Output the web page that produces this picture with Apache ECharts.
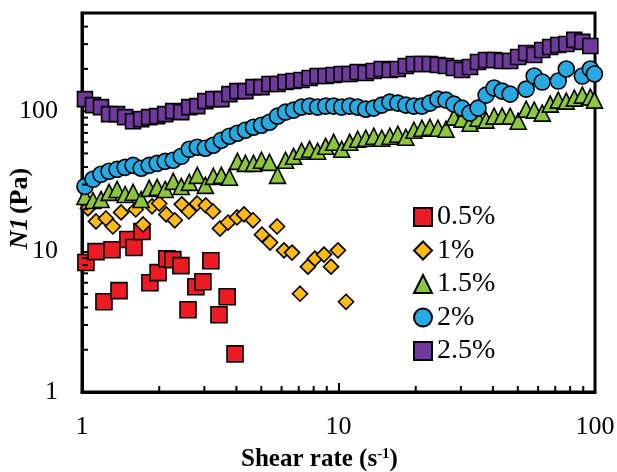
<!DOCTYPE html>
<html>
<head>
<meta charset="utf-8">
<script src="https://cdn.jsdelivr.net/npm/echarts@6/dist/echarts.min.js"></script>
<style>
html, body { margin: 0; padding: 0; background: #fff; }
#chart { width: 617px; height: 472px; }
</style>
</head>
<body>
<div id="chart"></div>
<script>
// shear rate grid shared by 1.5%, 2%, 2.5%
const shearRate = [1.027, 1.104, 1.186, 1.275, 1.370, 1.473, 1.582, 1.701, 1.828, 1.964,
    2.110, 2.268, 2.438, 2.619, 2.815, 3.026, 3.251, 3.494, 3.755, 4.036,
    4.336, 4.661, 5.009, 5.382, 5.784, 6.217, 6.681, 7.178, 7.716, 8.291,
    8.910, 9.575, 10.29, 11.06, 11.88, 12.77, 13.72, 14.75, 15.85, 17.03,
    18.30, 19.67, 21.14, 22.72, 24.41, 26.24, 28.19, 30.30, 32.56, 34.99,
    37.61, 40.41, 43.43, 46.68, 50.16, 53.90, 57.93, 62.26, 66.90, 71.90,
    77.27, 83.04, 89.24, 95.90, 99.5];

const n1_25 = [121.8, 110.4, 106.8, 95.2, 95.2, 90.6, 84.8, 87.7, 90.6, 92.1,
    95.2, 100, 98.4, 106.8, 108.6, 117.9, 121.8, 121.8, 132.2, 138.9,
    138.9, 148.4, 148.4, 155.9, 155.9, 161.1, 163.8, 166.5, 172.1, 177.8,
    177.8, 180.8, 183.8, 183.8, 189.9, 186.8, 193.1, 199.5, 196.3, 199.5,
    209.6, 216.6, 216.6, 216.6, 213.1, 209.6, 202.9, 196.3, 206.2, 223.9,
    231.3, 231.3, 227.6, 227.6, 243.1, 259.6, 251.2, 272.7, 286.5, 296.0,
    301.0, 321.6, 311.2, 291.2, '-'];

const n1_2 = [29.1, 32.7, 35.5, 37.3, 38.5, 39.8, 41.1, 39.2, 41.1, 42.5,
    43.9, 44.7, 47.7, 53.5, 55.3, 54.4, 57.2, 62.1, 66.3, 69.6,
    73.2, 76.8, 79.4, 83.4, 92.1, 98.4, 101.7, 106.8, 108.6, 106.8,
    108.6, 108.6, 106.8, 108.6, 106.8, 103.3, 105.1, 110.4, 116.0, 114.1,
    110.4, 108.6, 108.6, 114.1, 121.8, 119.8, 112.2, 105.1, 96.8, 105.1,
    130.1, 146.0, 138.9, 132.2, '-', 143.6, 177.8, 161.1, '-', 163.8,
    199.5, '-', 177.8, 199.5, 183.8];

const n1_15 = [24.7, 23.1, 23.5, 26.4, 27.7, 25.5, 26.4, 23.5, 28.2, 28.7,
    27.7, 31.6, 29.1, 31.1, 34.9, 29.6, 34.3, 34.9, 33.8, 43.9,
    42.5, 42.5, 44.7, 43.2, 34.9, 44.7, 47.7, 51.8, 53.5, 51.8,
    56.2, 60.0, 53.5, 60.0, 63.1, 64.2, 66.3, 64.2, 66.3, 68.5,
    65.2, 73.2, 75.6, 76.8, 75.6, 74.4, 90.6, 87.7, 82.1, 89.1,
    86.3, 92.1, 92.1, 92.1, 84.8, 103.3, 101.7, 96.8, 112.2, 119.8,
    117.9, 123.8, 130.1, 125.9, 119.8];

// 1% and 0.5% were read on their own
const rate_1 = [1.055, 1.134, 1.24, 1.32, 1.42, 1.62, 1.73, 1.875, 2.0, 2.13,
    2.30, 2.45, 2.61, 2.81, 3.04, 3.24, 3.45, 3.71, 4.02, 4.28,
    4.64, 5.03, 5.41, 5.76, 6.13, 6.59, 7.08, 7.60, 8.09, 8.78,
    9.35, 9.95, 10.7];
const n1_1 = [20.3, 16.4, 17.2, 15.1, 19.0, 19.95, 15.6, 21.0, 22.0, 18.4,
    16.7, 21.7, 19.3, 22.0, 21.3, 19.3, 14.6, 16.1, 17.5, 18.4,
    16.7, 13.2, 11.6, 15.1, 10.2, 9.84, 5.01, 7.81, 8.9, 9.52,
    7.81, 10.2, 4.39];

const rate_05 = [1.036, 1.134, 1.218, 1.309, 1.394, 1.51, 1.595, 1.713, 1.84, 1.98,
    2.14, 2.26, 2.43, 2.59, 2.78, 2.96, 3.18, 3.42, 3.68, 3.95];
const n1_05 = [8.35, 10.0, 4.39, 10.3, 5.27, 12.2, 10.7, 13.9, 6.0, 7.08,
    8.9, 8.77, 7.94, 3.85, 5.62, 6.1, 8.6, 3.55, 4.77, 1.87];

const xMinorTicks = [2, 3, 4, 5, 6, 7, 8, 9, 20, 30, 40, 50, 60, 70, 80, 90];
const yMinorTicks = [2, 3, 4, 5, 6, 7, 8, 9, 20, 30, 40, 50, 60, 70, 80, 90, 200, 300, 400];

function pairs(xs, ys) {
    const out = [];
    for (let i = 0; i < ys.length; i++) {
        if (ys[i] !== '-') out.push([xs[i], ys[i]]);
    }
    return out;
}

const serif = '"Liberation Serif", "Times New Roman", serif';

function makeSeries(name, symbol, size, color, data) {
    return {
        name: name,
        type: 'scatter',
        symbol: symbol,
        symbolSize: size,
        data: data,
        itemStyle: { color: color, borderColor: '#000', borderWidth: 1.6, opacity: 1 }
    };
}

const chart = echarts.init(document.getElementById('chart'));
chart.setOption({
    animation: false,
    grid: {
        left: 82, top: 13, right: 22, bottom: 80,
        containLabel: false,
        outerBoundsMode: 'none',
        show: true, borderColor: '#000', borderWidth: 3
    },
    legend: {
        orient: 'vertical',
        left: 408,
        top: 198,
        itemWidth: 18,
        itemHeight: 18,
        itemGap: 5.5,
        textStyle: { fontFamily: serif, fontSize: 28, lineHeight: 28, color: '#000' }
    },
    xAxis: {
        type: 'log',
        min: 1,
        max: 100,
        name: '{b|Shear rate (s}{sup|-1}{b|)}',
        nameLocation: 'middle',
        nameGap: 55,
        nameMoveOverlap: false,
        nameTextStyle: {
            padding: [0, 38, 0, 0],
            rich: {
                b: { fontFamily: serif, fontSize: 25, fontWeight: 'bold', color: '#000' },
                sup: { fontFamily: serif, fontSize: 15, fontWeight: 'bold', color: '#000',
                       verticalAlign: 'top' }
            }
        },
        axisLine: { lineStyle: { color: '#000', width: 3 } },
        axisTick: { inside: true, length: 9, lineStyle: { color: '#000', width: 2 } },
        axisLabel: { fontFamily: serif, fontSize: 26, color: '#000', margin: 22 },
        splitLine: { show: false }
    },
    yAxis: {
        type: 'log',
        min: 1,
        max: 500,
        name: '{i|N1} {b|(Pa)}',
        nameLocation: 'middle',
        nameGap: 49,
        nameMoveOverlap: false,
        nameTextStyle: {
            padding: [0, 12, 0, 0],
            rich: {
                i: { fontFamily: serif, fontSize: 26, fontStyle: 'italic', fontWeight: 'bold', color: '#000' },
                b: { fontFamily: serif, fontSize: 26, fontWeight: 'bold', color: '#000' }
            }
        },
        axisLine: { lineStyle: { color: '#000', width: 3 } },
        axisTick: { inside: true, length: 9, lineStyle: { color: '#000', width: 2 } },
        axisLabel: { fontFamily: serif, fontSize: 26, color: '#000', margin: 24, showMaxLabel: false },
        splitLine: { show: false }
    },
    series: [
        makeSeries('0.5%', 'rect', 16, '#ED1C24', pairs(rate_05, n1_05)),
        makeSeries('1%', 'diamond', 15, '#FDBB14', pairs(rate_1, n1_1)),
        makeSeries('1.5%', 'triangle', 16, '#8CC63F', pairs(shearRate, n1_15)),
        makeSeries('2%', 'circle', 16, '#27AAE1', pairs(shearRate, n1_2)),
        makeSeries('2.5%', 'rect', 15, '#6F3A9C', pairs(shearRate, n1_25))
    ]
});

// minor ticks on the log axes
const left = chart.convertToPixel({ xAxisIndex: 0 }, 1);
const bottom = chart.convertToPixel({ yAxisIndex: 0 }, 1);
const ticks = [];
xMinorTicks.forEach(function (v) {
    const px = chart.convertToPixel({ xAxisIndex: 0 }, v);
    ticks.push({ type: 'line', shape: { x1: px, y1: bottom, x2: px, y2: bottom - 6 },
        style: { stroke: '#000', lineWidth: 2 }, z: 10 });
});
yMinorTicks.forEach(function (v) {
    const py = chart.convertToPixel({ yAxisIndex: 0 }, v);
    ticks.push({ type: 'line', shape: { x1: left, y1: py, x2: left + 6, y2: py },
        style: { stroke: '#000', lineWidth: 2 }, z: 10 });
});
chart.setOption({ graphic: ticks });
</script>
</body>
</html>
